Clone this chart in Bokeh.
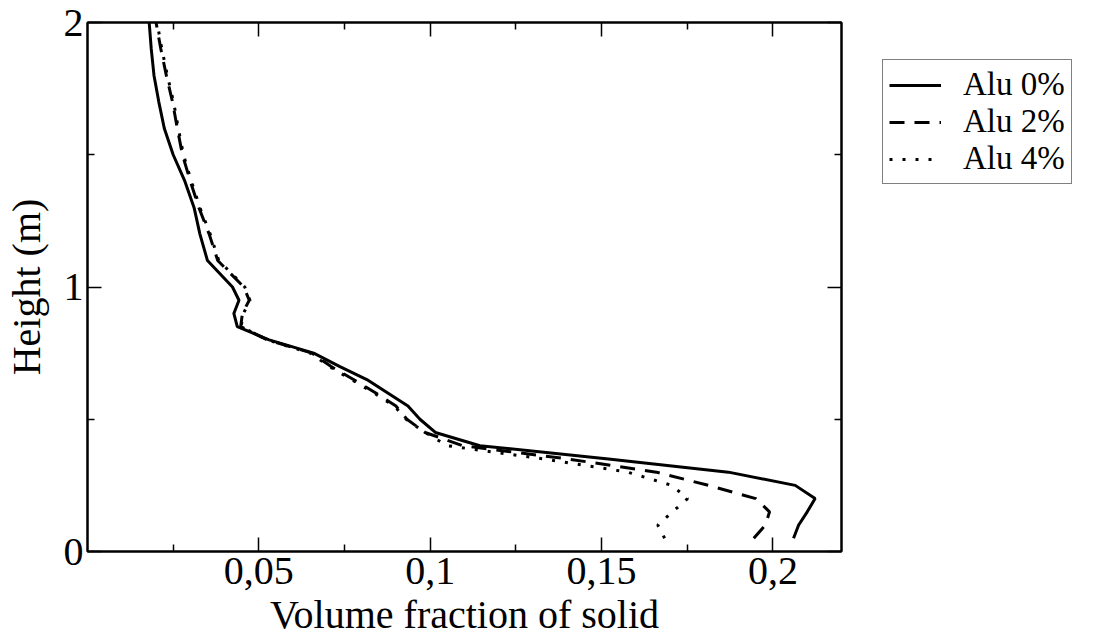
from bokeh.plotting import figure
from bokeh.models import FixedTicker, LinearAxis, Range1d, Legend, LegendItem, CustomLabelingPolicy
from bokeh.layouts import row
from bokeh.embed import file_html
from bokeh.resources import INLINE

# Alu 0% (solid)
h0 = [0.05, 0.10, 0.15, 0.20, 0.25, 0.30, 0.35, 0.40, 0.45, 0.50, 0.55, 0.60, 0.65, 0.70,
      0.75, 0.80, 0.85, 0.90, 0.95, 1.00, 1.10, 1.20, 1.30, 1.40, 1.50, 1.60, 1.70, 1.80, 1.90, 2.00]
f0 = [0.2060, 0.2075, 0.2100, 0.2123, 0.2065, 0.1870, 0.1520, 0.1145, 0.1015, 0.0970, 0.0935, 0.0875,
      0.0815, 0.0735, 0.0660, 0.0530, 0.0437, 0.0427, 0.0442, 0.0423, 0.0350, 0.0328, 0.0311, 0.0284,
      0.0250, 0.0224, 0.0208, 0.0194, 0.0186, 0.0180]

# Alu 2% (dashed)
h2 = [0.05, 0.10, 0.15, 0.20, 0.25, 0.30, 0.35, 0.40, 0.45, 0.50, 0.55, 0.60, 0.65, 0.70,
      0.75, 0.80, 0.85, 0.90, 0.95, 1.00, 1.10, 1.20, 1.30, 1.40, 1.50, 1.60, 1.70, 1.80, 1.90, 2.00]
f2 = [0.1944, 0.1978, 0.1990, 0.1950, 0.1812, 0.1660, 0.1400, 0.1095, 0.0985, 0.0932, 0.0900, 0.0840,
      0.0776, 0.0710, 0.0655, 0.0525, 0.0447, 0.0452, 0.0472, 0.0456, 0.0380, 0.0355, 0.0325, 0.0300,
      0.0277, 0.0262, 0.0248, 0.0230, 0.0214, 0.0200]

# Alu 4% (dotted)
h4 = [0.05, 0.10, 0.15, 0.20, 0.25, 0.30, 0.35, 0.40, 0.45, 0.50, 0.55, 0.60, 0.65, 0.70,
      0.75, 0.80, 0.85, 0.90, 0.95, 1.00, 1.10, 1.20, 1.30, 1.40, 1.50, 1.60, 1.70, 1.80, 1.90, 2.00]
f4 = [0.1684, 0.1664, 0.1707, 0.1751, 0.1705, 0.1576, 0.1330, 0.1050, 0.0985, 0.0930, 0.0895, 0.0835,
      0.0770, 0.0705, 0.0650, 0.0525, 0.0448, 0.0455, 0.0474, 0.0459, 0.0383, 0.0358, 0.0328, 0.0303,
      0.0280, 0.0265, 0.0251, 0.0233, 0.0217, 0.0203]

series_labels = ["Alu 0%", "Alu 2%", "Alu 4%"]

x_ticks = [0.05, 0.10, 0.15, 0.20]
x_minor = [0.025, 0.075, 0.125, 0.175]
x_labels = {0.05: "0,05", 0.10: "0,1", 0.15: "0,15", 0.20: "0,2"}
y_ticks = [0, 1, 2]
y_minor = [0.5, 1.5]

FONT = "Liberation Serif"
DASH = "15 10"
DOT = "3 10"

p = figure(width=845, height=639, x_range=Range1d(0, 0.22), y_range=Range1d(0, 2),
           output_backend="svg", toolbar_location=None,
           min_border_left=87, min_border_right=2, min_border_top=22, min_border_bottom=88)
p.grid.visible = False
p.outline_line_color = "black"
p.outline_line_width = 2
p.background_fill_color = "white"
p.border_fill_color = "white"

no_labels = CustomLabelingPolicy(code="""
const n = indices.size
for (let i = 0; i < n; i++) { indices.unset(i) }
return indices
""")

def style_axis(ax, show_labels):
    ax.axis_line_width = 2
    ax.axis_line_color = "black"
    ax.major_tick_in = 14
    ax.major_tick_out = 0
    ax.minor_tick_in = 7
    ax.minor_tick_out = 0
    ax.major_tick_line_width = 1.5
    ax.minor_tick_line_width = 1.5
    ax.major_tick_line_color = "black"
    ax.minor_tick_line_color = "black"
    ax.major_label_text_font = FONT
    ax.major_label_text_color = "black"
    ax.axis_label_text_font = FONT
    ax.axis_label_text_font_style = "normal"
    ax.axis_label_text_color = "black"
    if show_labels:
        ax.major_label_text_font_size = "40px"
        ax.axis_label_text_font_size = "40px"
    else:
        ax.major_label_policy = no_labels
        ax.major_label_text_font_size = "1px"
        ax.major_label_standoff = 0

xa = p.xaxis[0]
xa.ticker = FixedTicker(ticks=x_ticks, minor_ticks=x_minor)
xa.major_label_overrides = x_labels
xa.axis_label = "Volume fraction of solid"
style_axis(xa, True)
xa.major_label_standoff = 6
xa.axis_label_standoff = 5

ya = p.yaxis[0]
ya.ticker = FixedTicker(ticks=y_ticks, minor_ticks=y_minor)
ya.axis_label = "Height (m)"
style_axis(ya, True)
ya.major_label_standoff = 4
ya.axis_label_standoff = 12

top = LinearAxis(ticker=FixedTicker(ticks=x_ticks, minor_ticks=x_minor))
style_axis(top, False)
p.add_layout(top, "above")
right = LinearAxis(ticker=FixedTicker(ticks=y_ticks, minor_ticks=y_minor))
style_axis(right, False)
p.add_layout(right, "right")

p.line(f0, h0, line_color="black", line_width=3)
p.line(f2, h2, line_color="black", line_width=3, line_dash=DASH)
p.line(f4, h4, line_color="black", line_width=3, line_dash=DOT)

# legend panel to the right of the plot
p2 = figure(width=256, height=639, output_backend="svg", toolbar_location=None,
            x_range=Range1d(0, 1), y_range=Range1d(0, 1),
            x_axis_type=None, y_axis_type=None,
            min_border_left=0, min_border_top=22, min_border_right=0, min_border_bottom=88)
p2.grid.visible = False
p2.outline_line_color = None
p2.background_fill_color = "white"
p2.border_fill_color = "white"
l0 = p2.line([5, 6], [5, 5], line_color="black", line_width=3)
l2 = p2.line([5, 6], [5, 5], line_color="black", line_width=3, line_dash=DASH)
l4 = p2.line([5, 6], [5, 5], line_color="black", line_width=3, line_dash=DOT)

legend = Legend(items=[LegendItem(label=series_labels[0], renderers=[l0]),
                       LegendItem(label=series_labels[1], renderers=[l2]),
                       LegendItem(label=series_labels[2], renderers=[l4])],
                location="top_left")
legend.label_text_font = FONT
legend.label_text_font_size = "33px"
legend.label_text_color = "black"
legend.glyph_width = 52
legend.glyph_height = 30
legend.label_standoff = 22
legend.padding = 6
legend.spacing = 0
legend.margin = 37
legend.border_line_color = "black"
legend.border_line_width = 1
legend.background_fill_color = "white"
legend.background_fill_alpha = 1
p2.add_layout(legend, "center")

layout = row(p, p2)
open("out.html", "w").write(file_html(layout, INLINE))
